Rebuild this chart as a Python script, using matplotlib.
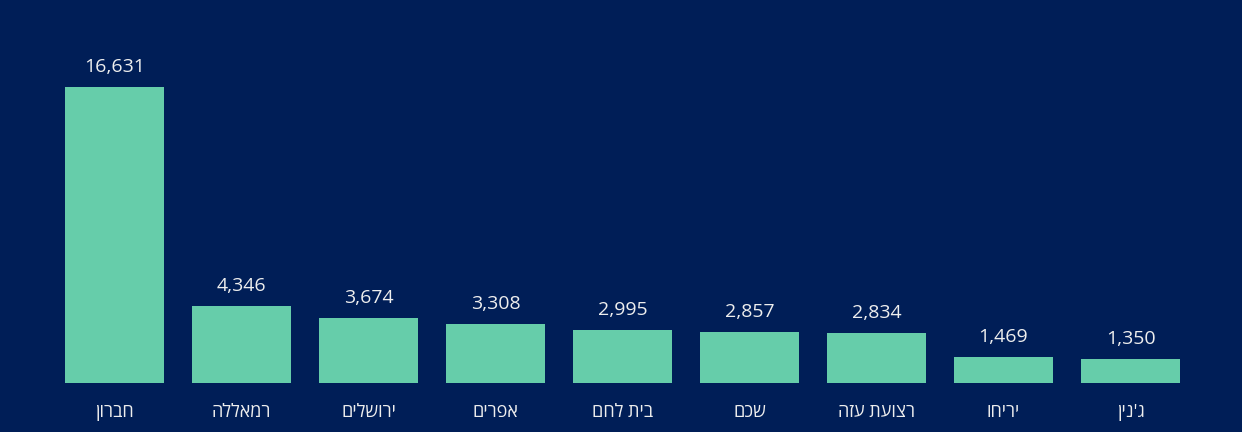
import matplotlib.pyplot as plt

# data (logical Hebrew order)
regions = ["חברון", "רמאללה", "ירושלים", "אפרים", "בית לחם", "שכם", "רצועת עזה", "יריחו", "ג'נין"]
counts = [16631, 4346, 3674, 3308, 2995, 2857, 2834, 1469, 1350]

bg = "#001E57"
bar_col = "#66CDAA"
txt_col = "#EEEEEE"
fam = ["Open Sans", "DejaVu Sans"]

fig = plt.figure(figsize=(12.42, 4.32), dpi=100, facecolor=bg)
# baseline at 383px from top, 16,631 top at 87px
ax = fig.add_axes([51 / 1242, 49 / 432, 1143 / 1242, 353 / 432])
ax.set_facecolor(bg)

x = list(range(len(counts)))
ax.bar(x, counts, width=0.78, color=bar_col, edgecolor="none")
ax.set_xlim(-0.5, len(counts) - 0.5)
ax.set_ylim(0, 16631 * 353 / 296)

for i, v in enumerate(counts):
    ax.annotate(f"{v:,}", (i, v), xytext=(0, 10.8), textcoords="offset points",
                ha="center", va="baseline", color=txt_col, fontsize=14, family=fam)
    # matplotlib has no bidi, so reverse the Hebrew for display
    ax.annotate(regions[i][::-1], (i, 0), xytext=(0, -24.5), textcoords="offset points",
                ha="center", va="baseline", color=txt_col, fontsize=13, family=fam)

ax.axis("off")
fig.savefig("out.png", facecolor=bg)
